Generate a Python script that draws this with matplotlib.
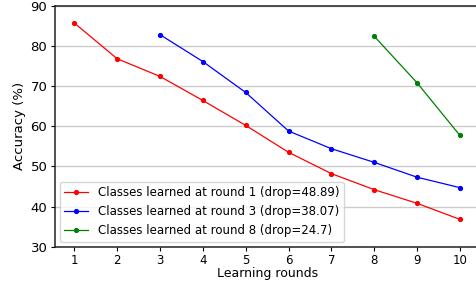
import matplotlib
matplotlib.use("Agg")
import matplotlib.pyplot as plt

# accuracy per learning round for each group of classes
rounds_r1 = [1, 2, 3, 4, 5, 6, 7, 8, 9, 10]
acc_r1 = [85.7, 76.8, 72.4, 66.4, 60.2, 53.5, 48.2, 44.2, 40.8, 36.8]
rounds_r3 = [3, 4, 5, 6, 7, 8, 9, 10]
acc_r3 = [82.8, 76.1, 68.4, 58.8, 54.4, 51.0, 47.3, 44.7]
rounds_r8 = [8, 9, 10]
acc_r8 = [82.4, 70.8, 57.7]
labels = ["Classes learned at round 1 (drop=48.89)",
          "Classes learned at round 3 (drop=38.07)",
          "Classes learned at round 8 (drop=24.7)"]

fig = plt.figure(figsize=(4.76, 2.82), dpi=100)
ax = fig.add_axes([55/476, 1 - 246.7/282, 424.2/476, 241/282])

ax.plot(rounds_r1, acc_r1, 'r.-', lw=0.9, ms=5.5, label=labels[0])
ax.plot(rounds_r3, acc_r3, 'b.-', lw=0.9, ms=5.5, label=labels[1])
ax.plot(rounds_r8, acc_r8, 'g.-', lw=0.9, ms=5.5, label=labels[2])

ax.set_ylim(30, 90)
ax.set_xlim(0.55, 10.45)
ax.set_xticks(range(1, 11))
ax.set_yticks(range(30, 91, 10))
ax.tick_params(axis='x', labelsize=8.5, length=3, pad=2)
ax.tick_params(axis='y', labelsize=9.5, length=3, pad=2.5)
for s in ax.spines.values():
    s.set_linewidth(1.1)
    s.set_color('#222222')
ax.yaxis.grid(True, color='#cccccc', lw=1)
ax.set_axisbelow(True)
ax.set_xlabel("Learning rounds", fontsize=9, labelpad=0.5)
ax.set_ylabel("Accuracy (%)", fontsize=9.5, labelpad=3)
ax.legend(loc='lower left', fontsize=8.5, borderaxespad=0.4, handlelength=2.0)

fig.savefig("out.png", dpi=100)
